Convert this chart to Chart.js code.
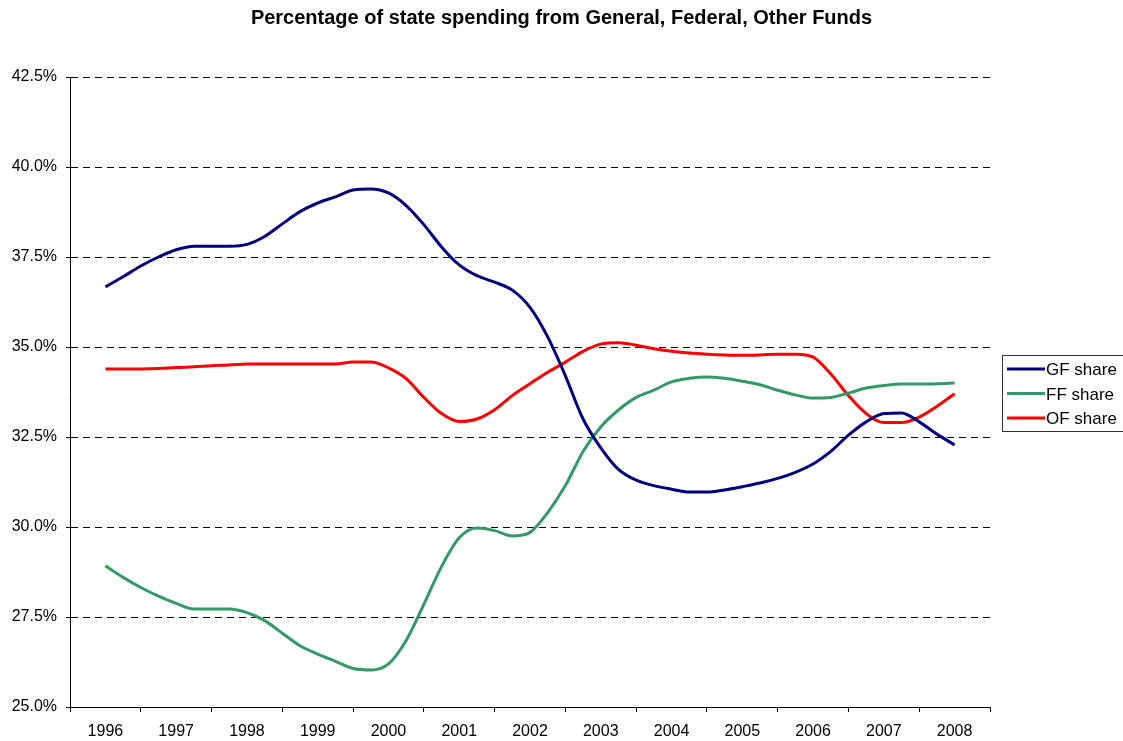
<!DOCTYPE html>
<html>
<head>
<meta charset="utf-8">
<script src="https://cdn.jsdelivr.net/npm/chart.js@4.4.1/dist/chart.umd.min.js"></script>
<style>
  body { margin: 0; background: #fff; }
  canvas { display: block; }
</style>
</head>
<body>
<canvas id="grab" width="1123" height="741"></canvas>
<script>
// quarterly positions along the year axis
const years = [1996, 1996.25, 1996.5, 1996.75, 1997, 1997.25, 1997.5, 1997.75,
  1998, 1998.25, 1998.5, 1998.75, 1999, 1999.25, 1999.5, 1999.75,
  2000, 2000.25, 2000.5, 2000.75, 2001, 2001.25, 2001.5, 2001.75,
  2002, 2002.25, 2002.5, 2002.75, 2003, 2003.25, 2003.5, 2003.75,
  2004, 2004.25, 2004.5, 2004.75, 2005, 2005.25, 2005.5, 2005.75,
  2006, 2006.25, 2006.5, 2006.75, 2007, 2007.25, 2007.5, 2007.75, 2008];

const gfShare = [36.67, 36.95, 37.25, 37.5, 37.7, 37.8, 37.8, 37.8,
  37.85, 38.07, 38.42, 38.76, 39.0, 39.17, 39.36, 39.39,
  39.28, 38.93, 38.4, 37.78, 37.28, 36.98, 36.8, 36.58,
  36.1, 35.28, 34.2, 33.0, 32.2, 31.6, 31.3, 31.15,
  31.05, 30.97, 30.97, 31.03, 31.12, 31.22, 31.35, 31.52,
  31.75, 32.1, 32.55, 32.92, 33.15, 33.17, 32.92, 32.58, 32.28];

const ffShare = [28.92, 28.6, 28.32, 28.08, 27.88, 27.72, 27.72, 27.72,
  27.62, 27.4, 27.05, 26.7, 26.47, 26.27, 26.07, 26.03,
  26.2, 26.85, 27.85, 28.9, 29.7, 29.97, 29.9, 29.75,
  29.85, 30.4, 31.15, 32.1, 32.78, 33.25, 33.6, 33.8,
  34.03, 34.13, 34.17, 34.13, 34.05, 33.95, 33.8, 33.67,
  33.58, 33.6, 33.72, 33.86, 33.93, 33.97, 33.97, 33.98, 34.0];

const ofShare = [34.39, 34.39, 34.39, 34.4, 34.43, 34.45, 34.48, 34.5,
  34.53, 34.53, 34.53, 34.53, 34.53, 34.53, 34.58, 34.58,
  34.42, 34.12, 33.6, 33.15, 32.93, 33.0, 33.26, 33.65,
  33.98, 34.3, 34.58, 34.88, 35.08, 35.12, 35.05, 34.95,
  34.88, 34.83, 34.8, 34.78, 34.77, 34.78, 34.8, 34.8,
  34.72, 34.25, 33.65, 33.15, 32.9, 32.9, 33.05, 33.35, 33.7];

const seriesNames = ["GF share", "FF share", "OF share"];
const seriesColors = ["#000080", "#339966", "#ff0000"];

const FONT = "'Liberation Sans', Arial, sans-serif";

const pts = (vals) => vals.map((v, i) => ({ x: years[i], y: v }));

// right hand layout box: keeps room for the excel style boxed legend
// (title stays centred on the whole canvas)
const legendBox = {
  position: "right",
  weight: 0,
  fullSize: false,
  options: {},
  left: 0, top: 0, right: 0, bottom: 0, width: 0, height: 0,
  isHorizontal() { return false; },
  getPadding() { return { top: 0, left: 0, right: 0, bottom: 0 }; },
  update(maxW, maxH) { this.width = 133; this.height = maxH; },
  draw() {
    const chart = this.chart;
    const ctx = chart.ctx;
    const ca = chart.chartArea;
    const left = ca.right + 12;
    const top = Math.round((ca.top + ca.bottom) / 2) - 37;
    ctx.save();
    ctx.strokeStyle = "#333";
    ctx.lineWidth = 1;
    ctx.strokeRect(left + 0.5, top + 0.5, 140, 76);
    ctx.font = "17px " + FONT;
    ctx.textBaseline = "middle";
    ctx.fillStyle = "#000";
    chart.data.datasets.forEach((ds, i) => {
      const y = top + 14 + i * 24.5;
      ctx.strokeStyle = ds.borderColor;
      ctx.lineWidth = 3;
      ctx.beginPath();
      ctx.moveTo(left + 5, y);
      ctx.lineTo(left + 43, y);
      ctx.stroke();
      ctx.fillText(ds.label, left + 44, y + 1.5);
    });
    ctx.restore();
  }
};

const boxLegend = {
  id: "boxLegend",
  start(chart) {
    legendBox.chart = chart;
    Chart.layouts.addBox(chart, legendBox);
  }
};

const grph = document.querySelector("#grab");

new Chart(grph, {
  type: "line",
  data: {
    datasets: [
      { label: seriesNames[0], data: pts(gfShare), borderColor: seriesColors[0] },
      { label: seriesNames[1], data: pts(ffShare), borderColor: seriesColors[1] },
      { label: seriesNames[2], data: pts(ofShare), borderColor: seriesColors[2] }
    ].map(d => Object.assign(d, {
      borderWidth: 3,
      pointRadius: 0,
      fill: false,
      cubicInterpolationMode: "monotone"
    }))
  },
  options: {
    responsive: false,
    animation: false,
    layout: { padding: 0 },
    plugins: {
      legend: { display: false },
      tooltip: { enabled: false },
      title: {
        display: true,
        text: "Percentage of state spending from General, Federal, Other Funds",
        color: "#000",
        font: { family: FONT, size: 20, weight: "bold" },
        padding: { top: 6, bottom: 47 }
      }
    },
    scales: {
      x: {
        type: "linear",
        min: 1995.5,
        max: 2008.5,
        afterFit: (s) => { s.height = 34; },
        ticks: {
          stepSize: 0.5,
          maxTicksLimit: 40,
          autoSkip: false,
          maxRotation: 0,
          padding: 10,
          color: "#000",
          font: { family: FONT, size: 16 },
          callback: (v) => Number.isInteger(v) ? String(v) : ""
        },
        grid: {
          drawOnChartArea: false,
          tickLength: 5,
          tickColor: (c) => (c.tick && Number.isInteger(c.tick.value)) ? "rgba(0,0,0,0)" : "#000"
        },
        border: { color: "#000", width: 1 }
      },
      y: {
        min: 25,
        max: 42.5,
        afterFit: (s) => { s.width = 70; },
        ticks: {
          stepSize: 2.5,
          padding: 9,
          color: "#000",
          font: { family: FONT, size: 16 },
          callback: (v) => v.toFixed(1) + "%"
        },
        grid: {
          color: "#000",
          lineWidth: 1,
          tickLength: 4,
          tickColor: "#000",
          tickBorderDash: []
        },
        border: { color: "#000", width: 1, dash: [7, 5] }
      }
    }
  },
  plugins: [boxLegend]
});
</script>
</body>
</html>
